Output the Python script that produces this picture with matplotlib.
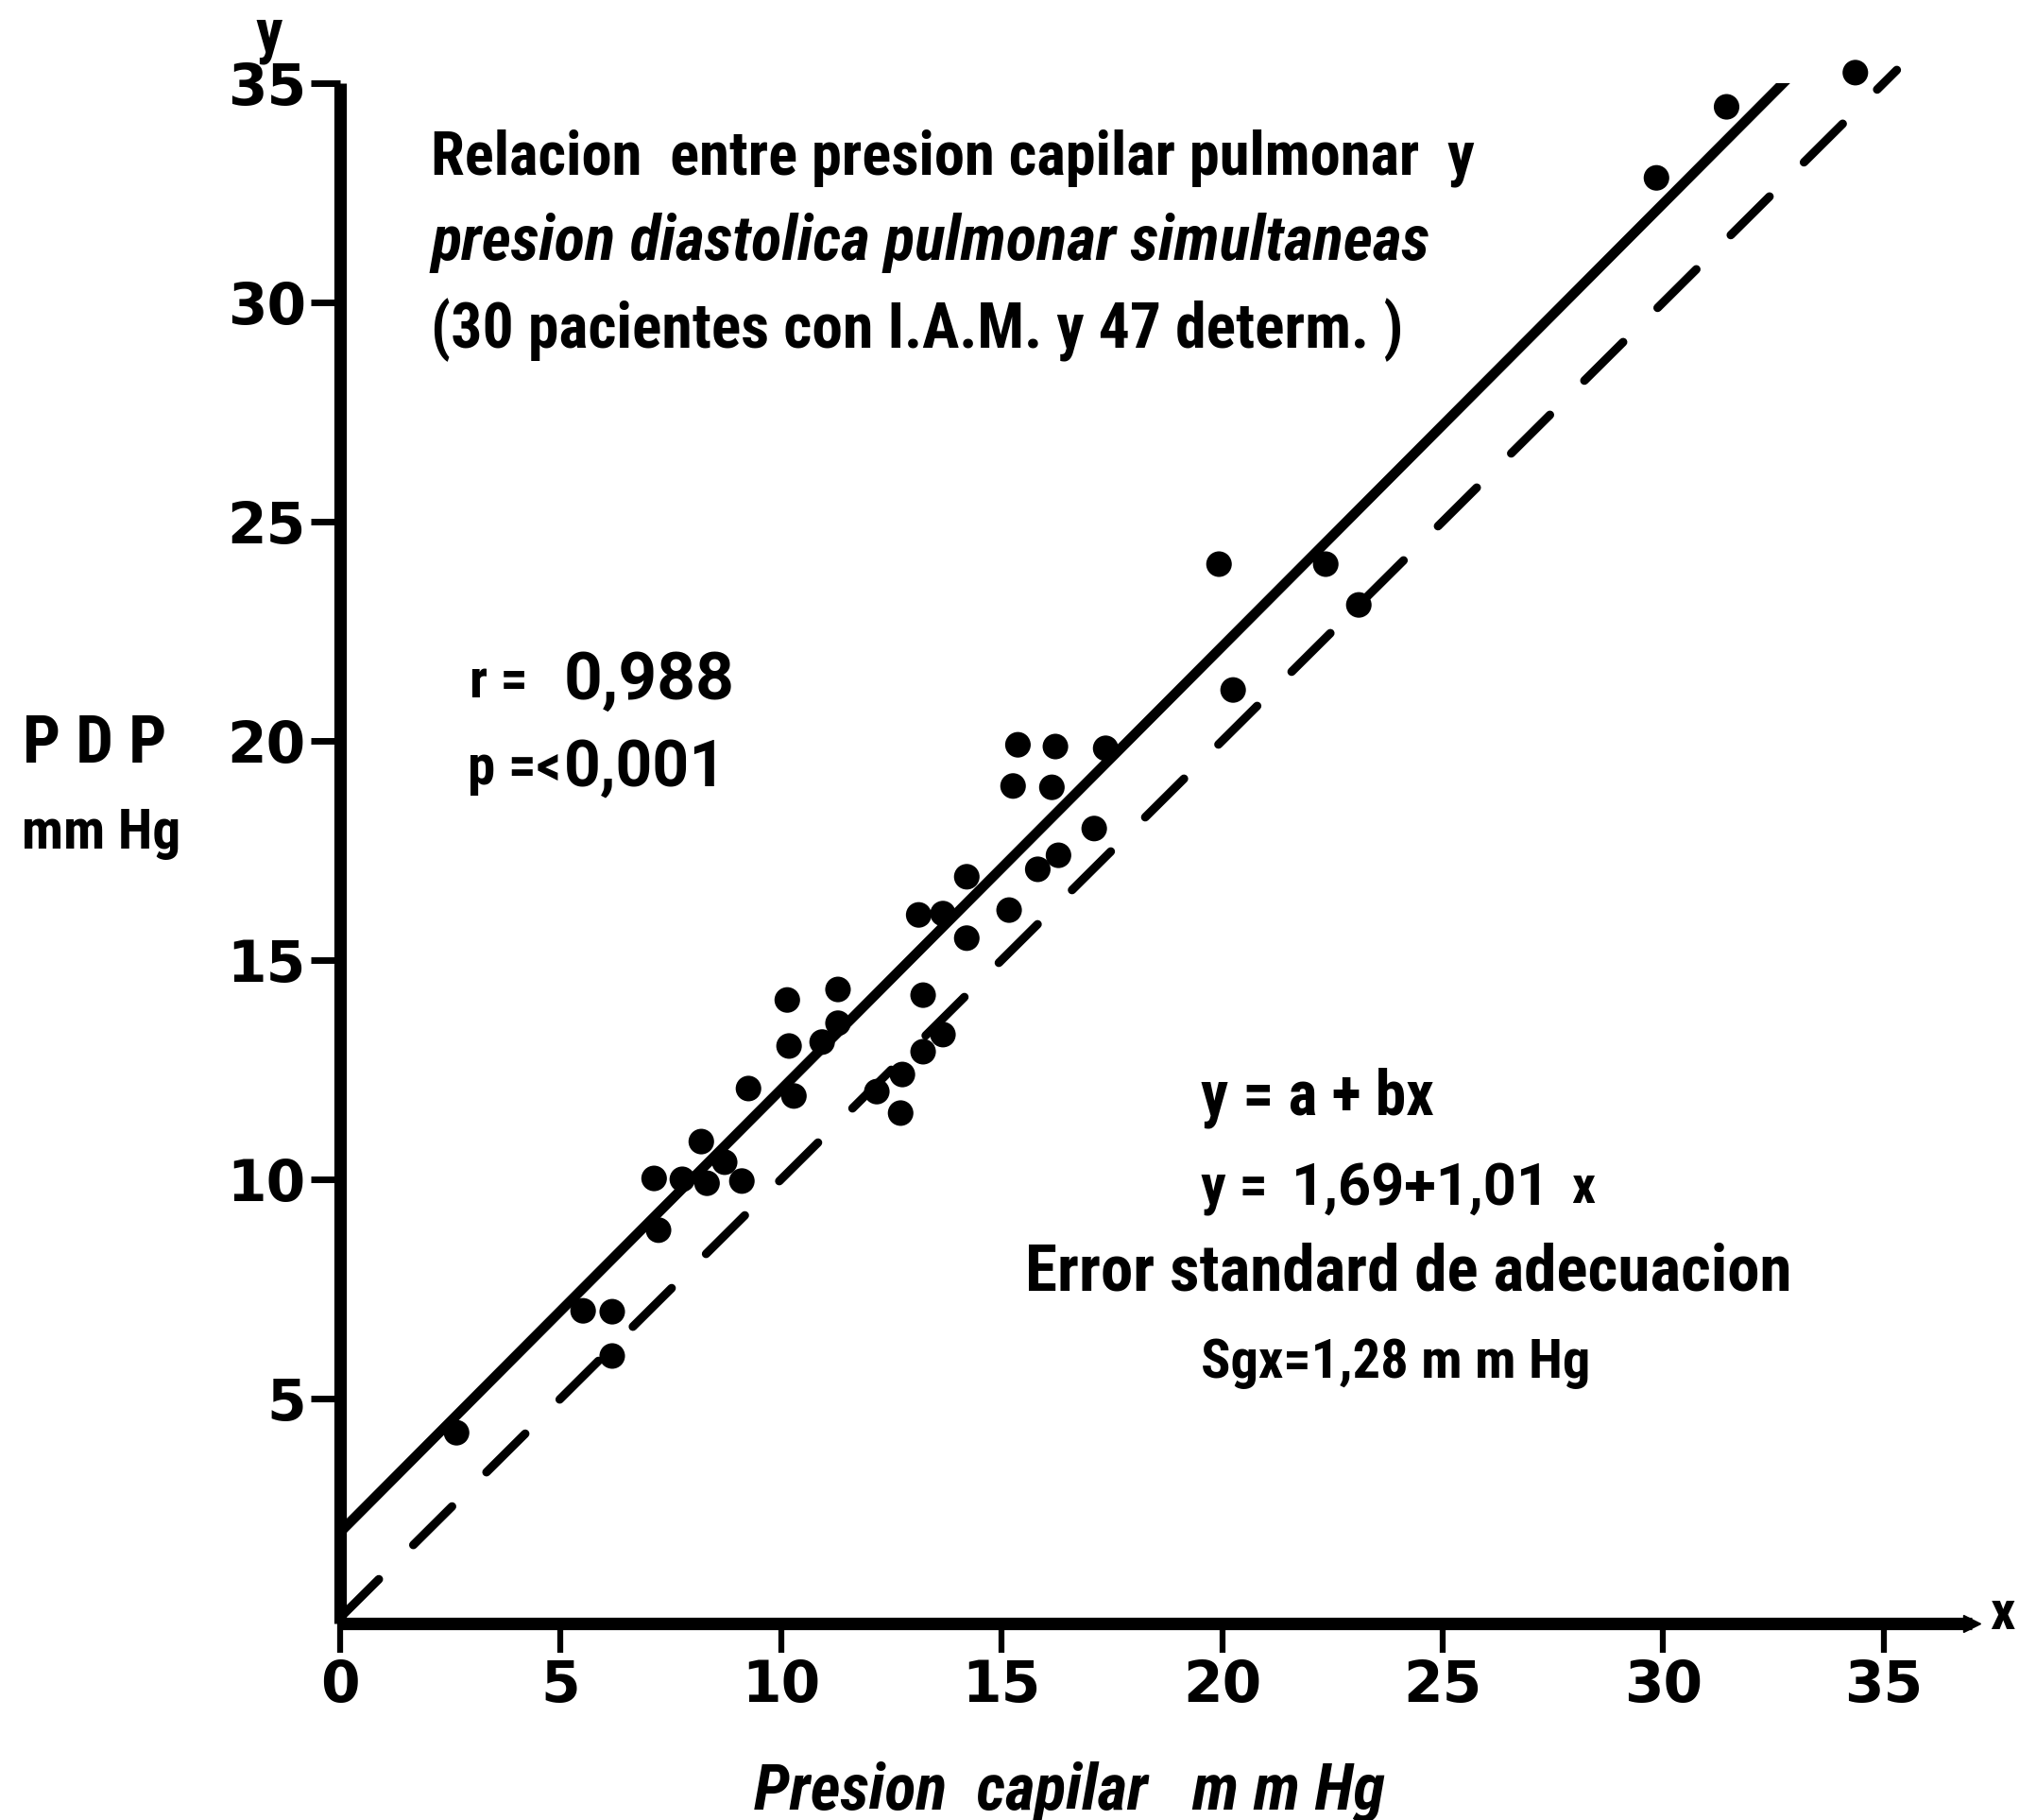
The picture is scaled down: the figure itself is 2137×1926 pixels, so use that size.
import matplotlib
matplotlib.use("Agg")
import matplotlib.pyplot as plt
from matplotlib import font_manager as fm
import numpy as np

# ================== DATA ==================
# presion capilar (x) / presion diastolica pulmonar (y), mm Hg
pcp = [2.64, 5.51, 6.17, 6.17, 7.22, 7.12, 7.76, 8.32, 9.11, 8.19,
       8.72, 9.26, 10.29, 10.18, 10.14, 10.93, 11.29, 11.29, 12.17, 12.71,
       12.75, 13.22, 13.67, 13.22, 13.12, 13.67, 14.21, 14.21, 15.17, 15.82,
       16.29, 17.10, 15.26, 16.14, 15.37, 16.22, 17.36, 19.93, 22.35, 23.10,
       20.25, 29.85, 31.44, 34.36]
pdp = [4.22, 7.00, 6.98, 5.97, 8.84, 10.02, 10.00, 9.91, 9.96, 10.86,
       10.39, 12.07, 11.90, 13.04, 14.09, 13.13, 13.56, 14.33, 12.00, 11.51,
       12.39, 12.91, 13.30, 14.20, 16.03, 16.06, 15.50, 16.90, 16.14, 17.07,
       17.39, 18.00, 18.97, 18.94, 19.91, 19.87, 19.83, 24.03, 24.03, 23.10,
       21.16, 32.84, 34.46, 35.24]

# regression line as drawn, and the identity line
fit_a, fit_b, fit_x_end = 1.95, 1.01, 32.83
ident_end = 35.3

x_ticks = [0, 5, 10, 15, 20, 25, 30, 35]
y_ticks = [5, 10, 15, 20, 25, 30, 35]

# ================== FONTS ==================
def pick_font(names):
    for n in names:
        try:
            fm.findfont(fm.FontProperties(family=n), fallback_to_default=False)
            return n
        except ValueError:
            pass
    return "DejaVu Sans"

# narrow face if one is installed, the scan's lettering is condensed
TXT_FONT = pick_font(["Roboto Condensed", "Liberation Sans Narrow",
                      "Open Sans Condensed", "DejaVu Sans Condensed", "DejaVu Sans"])
BIG_FONT = pick_font(["Roboto", "DejaVu Sans"])
NUM_FONT = "DejaVu Sans"

W, H = 2137, 1926
fig = plt.figure(figsize=(W / 100, H / 100), dpi=100)
ax = fig.add_axes([360 / W, 1 - 1718 / H, (2087 - 360) / W, (1718 - 88) / H])

# ================== PLOT ==================
xf = np.array([0, fit_x_end])
ax.plot(xf, fit_a + fit_b * xf, color="black", lw=7.6, solid_capstyle="butt", zorder=2)

xi = np.array([0, ident_end])
ax.plot(xi, xi, color="black", lw=6.5, dashes=(6.4, 5.7), dash_capstyle="round",
        zorder=2, clip_on=False)

ax.scatter(pcp, pdp, s=380, color="black", edgecolors="none", zorder=3, clip_on=False)

ax.set_xlim(0, 37.0)
ax.set_ylim(-0.13, 35)
ax.set_xticks(x_ticks)
ax.set_yticks(y_ticks)
ax.set_xticklabels([str(v) for v in x_ticks])
ax.set_yticklabels([str(v) for v in y_ticks])

for s in ["top", "right"]:
    ax.spines[s].set_visible(False)
for s in ["left", "bottom"]:
    ax.spines[s].set_linewidth(9.5)
    ax.spines[s].set_capstyle("butt")

ax.tick_params(axis="y", length=22, width=5, pad=4, direction="out")
ax.tick_params(axis="x", length=22, width=4.5, pad=5, direction="out")
for lab in ax.get_xticklabels() + ax.get_yticklabels():
    lab.set_fontfamily(NUM_FONT)
    lab.set_fontweight("heavy")
    lab.set_fontsize(43)

# arrow tip at the end of the x axis
ax.plot([1.0], [0.0], transform=ax.transAxes, marker=">", ms=13, color="black",
        clip_on=False, zorder=4)

# ================== TEXT ==================
renderer = fig.canvas.get_renderer()

def put(left, right, base, s, family=TXT_FONT, style="normal", size=30):
    t = fig.text(left / W, 1 - base / H, s, ha="left", va="baseline",
                 fontsize=size, fontweight="bold", fontstyle=style, family=family)
    if right is not None:
        w = t.get_window_extent(renderer).width
        t.set_fontsize(size * (right - left) / w)
    return t

put(456, 1563, 185, "Relacion  entre presion capilar pulmonar  y")
put(456, 1512, 275, "presion diastolica pulmonar simultaneas", style="italic")
put(456, 1487, 368, "(30 pacientes con I.A.M. y 47 determ. )")

put(497, 559, 738, "r =")
put(597, 778, 740, "0,988", family=BIG_FONT)
put(495, 594, 830, "p =<")
put(597, 770, 832, "0,001", family=BIG_FONT)

put(1271, 1518, 1180, "y = a + bx")
put(1271, 1342, 1273, "y =")
put(1367, 1641, 1275, "1,69+1,01", family=BIG_FONT)
put(1663, 1688, 1273, "x")
put(1085, 1897, 1365, "Error standard de adecuacion")
put(1271, 1683, 1458, "Sgx=1,28 m m Hg")

put(24, 176, 807, "P D P")
put(23, 191, 898, "mm Hg")
put(798, 1466, 1915, "Presion  capilar   m m Hg", style="italic")

put(270, None, 55, "y", size=46)
put(2106, None, 1724, "x", size=42)

fig.savefig("out.png", dpi=100, facecolor="white")
